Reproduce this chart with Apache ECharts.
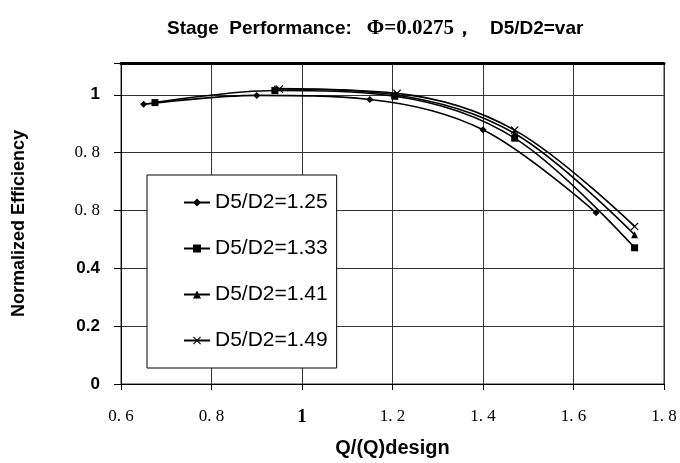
<!DOCTYPE html>
<html>
<head>
<meta charset="utf-8">
<title>Stage Performance</title>
<script src="https://cdn.jsdelivr.net/npm/echarts@6/dist/echarts.min.js"></script>
<style>
  html, body { margin: 0; padding: 0; background: #fff; }
  #main { width: 680px; height: 463px; }
</style>
</head>
<body>
<div id="main"></div>
<script>
'use strict';
// 数据
var seriesNames = ['D5/D2=1.25', 'D5/D2=1.33', 'D5/D2=1.41', 'D5/D2=1.49'];
var q125 = [0.65, 0.90, 1.15, 1.40, 1.65];
var eff125 = [0.967, 0.998, 0.984, 0.879, 0.592];
var q133 = [0.675, 0.94, 1.205, 1.47, 1.735];
var eff133 = [0.973, 1.015, 0.995, 0.850, 0.471];
var q141 = [0.94, 1.205, 1.47, 1.735];
var eff141 = [1.022, 1.000, 0.866, 0.516];
var q149 = [0.95, 1.21, 1.47, 1.735];
var eff149 = [1.020, 1.005, 0.878, 0.545];
// tick labels as printed in the original (the 0.6 tick really reads 0. 8)
var xTickLabels = { '0.6': '0. 6', '0.8': '0. 8', '1': '1', '1.2': '1. 2', '1.4': '1. 4', '1.6': '1. 6', '1.8': '1. 8' };
var yTickLabels = { '0': '0', '0.2': '0.2', '0.4': '0.4', '0.6': '0. 8', '0.8': '0. 8', '1': '1' };

function StageChart() {
  var _this = this;
  var sans = 'Liberation Sans, Arial, sans-serif';
  var serif = 'Liberation Serif, DejaVu Serif, serif';

  this.pairs = function(xs, ys) {
    var out = [];
    for (var i = 0; i < xs.length; i++) {
      out.push([xs[i], ys[i]]);
    }
    return out;
  };

  this.key = function(v) {
    return String(Math.round(v * 10) / 10);
  };

  this.line = function(name, xs, ys, symbol, size) {
    return {
      name: name,
      type: 'line',
      smooth: 0.35,
      symbol: symbol,
      symbolSize: size,
      showAllSymbol: true,
      data: _this.pairs(xs, ys),
      lineStyle: { color: '#000', width: 1.6 },
      itemStyle: { color: '#000' },
      emphasis: { disabled: true },
      z: 3
    };
  };

  this.init = function() {
    var chart = echarts.init(document.getElementById('main'), null, { renderer: 'canvas' });
    var crossPath = 'path://M0,1L1,0L5,4L9,0L10,1L6,5L10,9L9,10L5,6L1,10L0,9L4,5Z';
    chart.setOption({
      animation: false,
      backgroundColor: '#fff',
      title: {
        left: 162,
        top: 13,
        text: '{a|Stage  Performance:}   {b|Φ=0.0275，}   {a|D5/D2=var}',
        textStyle: {
          rich: {
            a: { fontFamily: sans, fontWeight: 'bold', fontSize: 19, color: '#000' },
            b: { fontFamily: serif, fontSize: 21, color: '#000' }
          }
        }
      },
      grid: {
        left: 121, right: 16, top: 63, bottom: 71,
        show: true, borderColor: '#333', borderWidth: 1,
        containLabel: false
      },
      legend: {
        orient: 'vertical',
        left: 147,
        top: 175,
        data: seriesNames,
        selectedMode: false,
        backgroundColor: '#fff',
        borderColor: '#000',
        borderWidth: 1,
        padding: [17, 9, 17, 36],
        itemGap: 25,
        itemWidth: 26,
        itemHeight: 10,
        textStyle: { fontFamily: sans, fontSize: 21, color: '#000' }
      },
      xAxis: [{
        type: 'value',
        min: 0.6, max: 1.8, interval: 0.2,
        name: 'Q/(Q)design',
        nameLocation: 'middle',
        nameGap: 54,
        nameTextStyle: { fontFamily: sans, fontWeight: 'bold', fontSize: 20, color: '#000' },
        axisLine: { show: true, onZero: false, lineStyle: { color: '#000', width: 1 } },
        axisTick: { show: true, length: 6, lineStyle: { color: '#000' } },
        axisLabel: {
          margin: 24,
          formatter: function(v) {
            var t = xTickLabels[_this.key(v)];
            if (t === undefined) return '';
            return t === '1' ? '{o|1}' : '{f|' + t + '}';
          },
          rich: {
            f: { fontFamily: serif, fontSize: 17, color: '#000' },
            o: { fontFamily: serif, fontWeight: 'bold', fontSize: 19, color: '#000' }
          }
        },
        splitLine: { show: true, lineStyle: { color: '#333', width: 1 } }
      }, {
        // 顶部粗线
        type: 'value',
        position: 'top',
        min: 0.6, max: 1.8,
        axisLine: { show: true, onZero: false, lineStyle: { color: '#000', width: 3 } },
        axisTick: { show: false },
        axisLabel: { show: false },
        splitLine: { show: false }
      }],
      yAxis: {
        type: 'value',
        min: 0, max: 1.11, interval: 0.2,
        name: 'Normalized Efficiency',
        nameLocation: 'middle',
        nameGap: 93,
        nameTextStyle: { fontFamily: sans, fontWeight: 'bold', fontSize: 18, color: '#000' },
        axisLine: { show: true, lineStyle: { color: '#000', width: 1 } },
        axisTick: { show: true, length: 7, lineStyle: { color: '#000' } },
        axisLabel: {
          margin: 21,
          formatter: function(v) {
            var t = yTickLabels[_this.key(v)];
            if (t === undefined || v > 1.05) return '';
            return t.indexOf(' ') >= 0 ? '{f|' + t + '}' : '{s|' + t + '}';
          },
          rich: {
            s: { fontFamily: sans, fontWeight: 'bold', fontSize: 17, color: '#000' },
            f: { fontFamily: serif, fontSize: 17, color: '#000' }
          }
        },
        splitLine: { show: true, lineStyle: { color: '#333', width: 1 } }
      },
      series: [
        _this.line(seriesNames[0], q125, eff125, 'diamond', 7),
        _this.line(seriesNames[1], q133, eff133, 'rect', 7),
        _this.line(seriesNames[2], q141, eff141, 'triangle', 7),
        _this.line(seriesNames[3], q149, eff149, crossPath, 8)
      ]
    });
  };
}

new StageChart().init();
</script>
</body>
</html>
